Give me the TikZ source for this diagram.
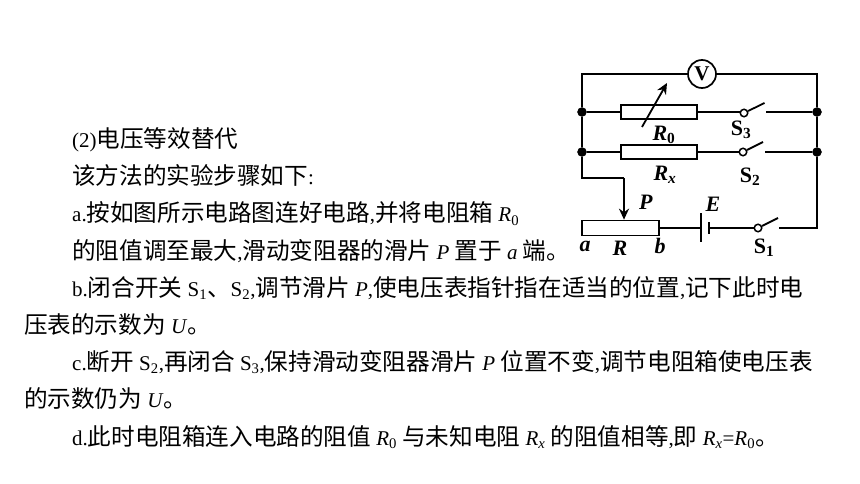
\documentclass[tikz,border=0pt]{standalone}
\usepackage{fontspec}
\setmainfont{Liberation Serif}
\newfontfamily\cjk{Noto Sans CJK SC}
\usetikzlibrary{arrows.meta}
\newcommand{\zh}[1]{{\fontsize{23.6}{24}\selectfont\cjk #1}}
\newcommand{\iv}[1]{\textit{#1}}
\newcommand{\low}[1]{\textsubscript{#1}}
\tikzset{
  x=1pt,y=-1pt,
  wire/.style={line width=1.8pt,line join=miter},
  thinwire/.style={line width=1.1pt},
  rbox/.style={draw,line width=1.7pt,fill=white,minimum width=76pt,minimum height=14pt,inner sep=0pt},
  junction/.style={circle,fill=black,draw=black,minimum size=9pt,inner sep=0pt},
  contact/.style={circle,draw=black,line width=1.5pt,fill=white,minimum size=7.5pt,inner sep=0pt},
  meter/.style={circle,draw=black,line width=1.7pt,fill=white,minimum size=28pt,inner sep=0pt,font=\bfseries\fontsize{21}{21}\selectfont},
  para/.style={anchor=base west,inner sep=0pt,font=\fontsize{21}{24}\selectfont},
  lab/.style={inner sep=0pt,font=\bfseries\fontsize{22}{22}\selectfont},
}
\begin{document}
\begin{tikzpicture}
\useasboundingbox[fill=white] (0,0) rectangle (860,484);
% text
\node[para] (t1) at (72,148) {(2)\zh{电压等效替代}};
\node[para] (t2) at (72,185) {\zh{该方法的实验步骤如下}:};
\node[para] (t3) at (72,222) {a.\zh{按如图所示电路图连好电路},\zh{并将电阻箱} \iv{R}\low{0}};
\node[para] (t4) at (72,259) {\zh{的阻值调至最大},\zh{滑动变阻器的滑片} \iv{P} \zh{置于} \iv{a} \zh{端。}};
\node[para] (t5) at (72,296) {b.\zh{闭合开关} S\low{1}\zh{、}S\low{2},\zh{调节滑片} \iv{P},\zh{使电压表指针指在适当的位置},\zh{记下此时电}};
\node[para] (t6) at (24,333) {\zh{压表的示数为} \iv{U}\zh{。}};
\node[para] (t7) at (72,370) {c.\zh{断开} S\low{2},\zh{再闭合} S\low{3},\zh{保持滑动变阻器滑片} \iv{P} \zh{位置不变},\zh{调节电阻箱使电压表}};
\node[para] (t8) at (24,407) {\zh{的示数仍为} \iv{U}\zh{。}};
\node[para] (t9) at (72,445) {d.\zh{此时电阻箱连入电路的阻值} \iv{R}\low{0} \zh{与未知电阻} \iv{R}\low{\iv{x}} \zh{的阻值相等},\zh{即} \iv{R}\low{\iv{x}}=\iv{R}\low{0}\zh{。}};
% circuit anchors
\coordinate (tl) at (582,74);
\coordinate (tr) at (817,74);
\node[junction] (j1) at (582,112) {};
\node[junction] (j2) at (582,152) {};
\node[junction] (j3) at (817,112) {};
\node[junction] (j4) at (817,152) {};
\coordinate (corner) at (582,178);
\coordinate (bend) at (624,178);
\coordinate (br) at (817,228);
\node[rbox] (r0) at (659,112) {};
\node[rbox] (rx) at (659,152) {};
\node[rbox,minimum width=77pt,minimum height=15pt] (rh) at (620.5,228) {};
\node[meter] (v) at (702,74) {V};
\node[contact] (s3) at (744,113) {};
\node[contact] (s2) at (743,152) {};
\node[contact] (s1) at (758,228) {};
\coordinate (s3b) at (764.5,103);
\coordinate (s2b) at (763,142);
\coordinate (s1b) at (778,218);
\coordinate (s3e) at (766,112);
\coordinate (s2e) at (765,152);
\coordinate (s1e) at (779,228);
\coordinate (bl1) at (701,213);
\coordinate (bl2) at (701,242);
\coordinate (bs1) at (709,222);
\coordinate (bs2) at (709,234);
\coordinate (bl) at (701,228);
\coordinate (bs) at (709,228);
\coordinate (ar1) at (642,127);
\coordinate (ar2) at (667,83);
% wires
\draw[wire] (v.east) -- (tr) -- (j3) -- (j4) -- (br) -- (s1e);
\draw[wire] (v.west) -- (tl) -- (j1) -- (j2) -- (corner) -- (bend);
\draw[wire,-{Stealth[length=11pt,width=10pt]}] (bend) -- (bend |- rh.north);
\draw[wire] (j1) -- (r0.west);
\draw[wire] (r0.east) -- (s3.west |- r0.east);
\draw[wire] (s3e) -- (j3);
\draw[wire] (j2) -- (rx.west);
\draw[wire] (rx.east) -- (s2.west);
\draw[wire] (s2e) -- (j4);
\draw[thinwire] (rh.east) -- (bl);
\draw[wire] (bs) -- (s1.west);
\draw[wire] (bl1) -- (bl2);
\draw[wire] (bs1) -- (bs2);
\draw[wire] (s3) -- (s3b);
\draw[wire] (s2) -- (s2b);
\draw[wire] (s1) -- (s1b);
\draw[wire,-{Stealth[length=11pt,width=10pt]}] (ar1) -- (ar2);
% labels
\node[lab] (lr0) at (664,135) {\iv{R}\low{0}};
\node[lab] (ls3) at (741,130) {S\low{3}};
\node[lab] (lrx) at (665,175) {\iv{R}\low{\iv{x}}};
\node[lab] (ls2) at (750,177) {S\low{2}};
\node[lab] (lp) at (646,202) {\iv{P}};
\node[lab] (le) at (713,204) {\iv{E}};
\node[lab] (la) at (585,246) {\iv{a}};
\node[lab] (lr) at (620,248) {\iv{R}};
\node[lab] (lb) at (660,246) {\iv{b}};
\node[lab] (ls1) at (764,248) {S\low{1}};
\end{tikzpicture}
\end{document}
